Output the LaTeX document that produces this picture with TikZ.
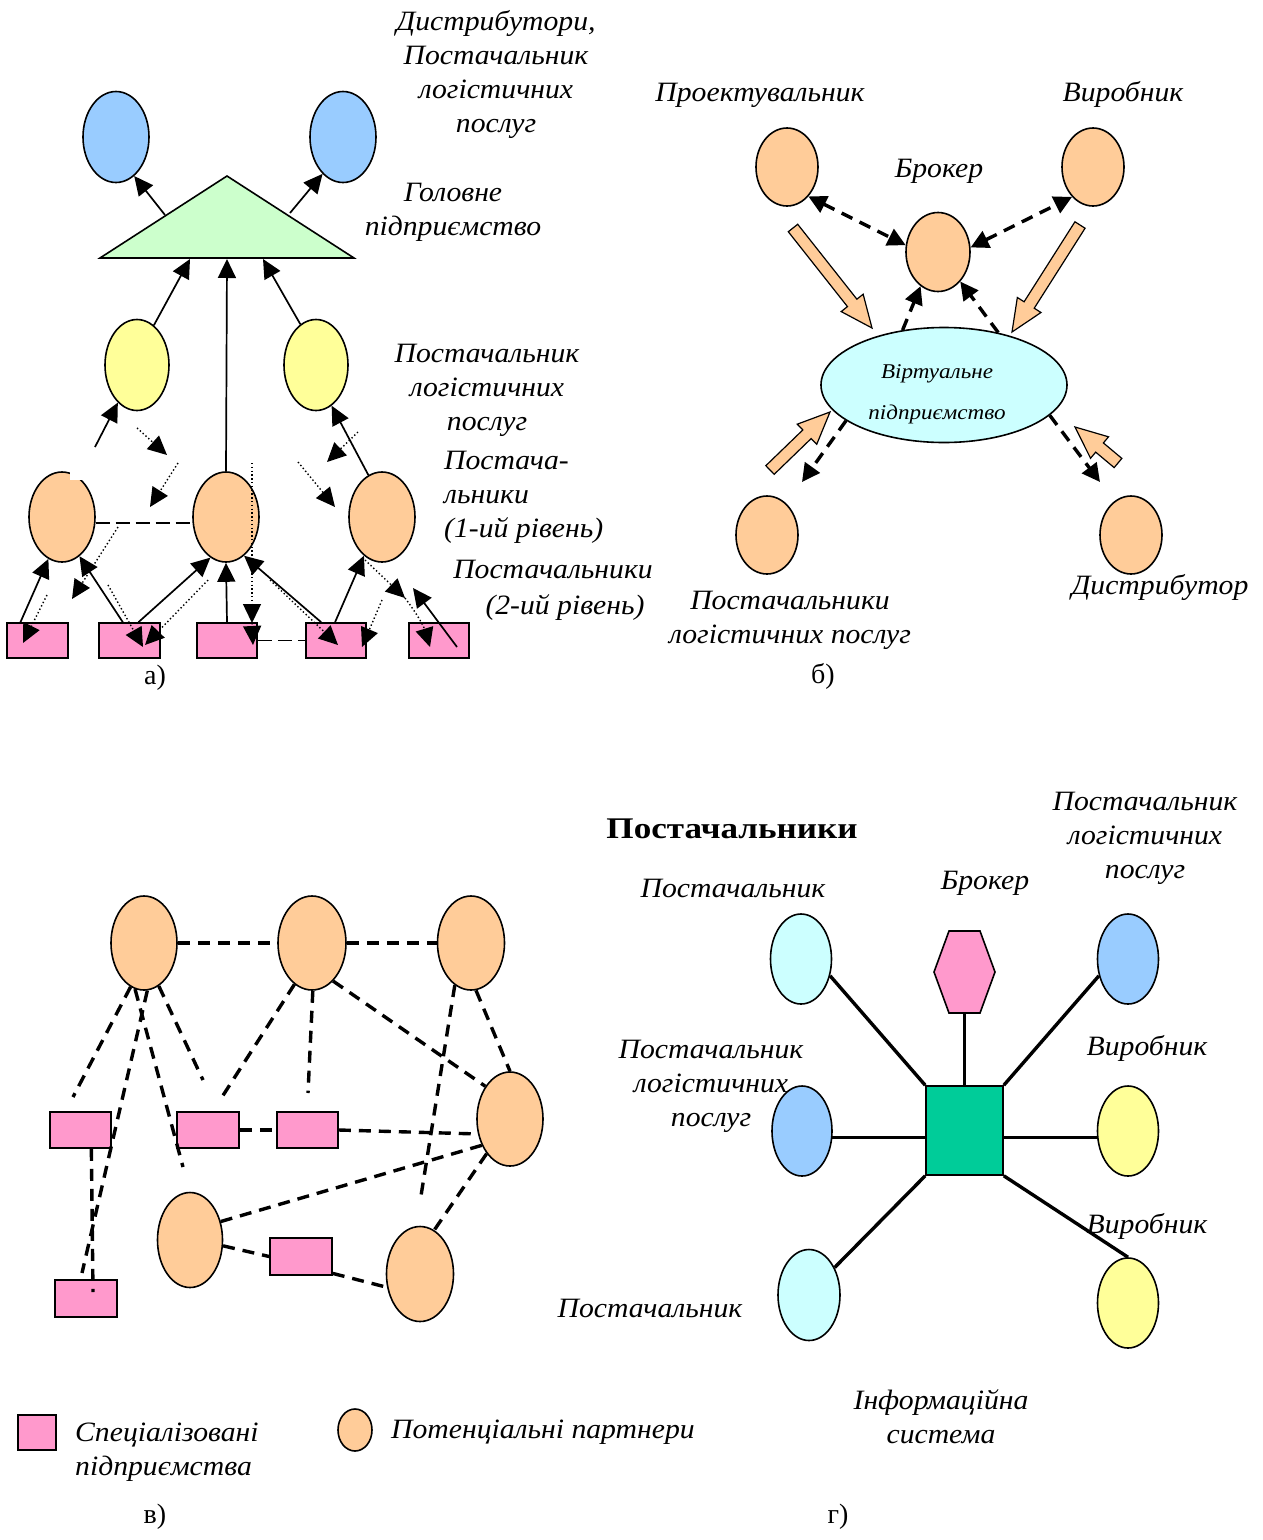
\documentclass[tikz,border=0pt]{standalone}
\usepackage{fontspec}
\setmainfont{Liberation Serif}
\newfontfamily\lblfam{Liberation Serif}[FakeStretch=1.06]
\newfontfamily\boldfam{Liberation Serif}[FakeStretch=1.17]
\newfontfamily\smallfam{Liberation Serif}[FakeStretch=1.1]
\usetikzlibrary{arrows.meta,shapes.geometric,calc}
\definecolor{orC}{HTML}{FFCC99}
\definecolor{yeC}{HTML}{FFFF99}
\definecolor{blC}{HTML}{99CCFF}
\definecolor{grC}{HTML}{CCFFCC}
\definecolor{piC}{HTML}{FF99CC}
\definecolor{cyC}{HTML}{CCFFFF}
\definecolor{tlC}{HTML}{00CC99}
\newcommand\lblfont{\lblfam\fontsize{28}{34}\selectfont\itshape}
\newcommand\fatarrow[2]{%
  \coordinate (faH) at ($(#2)!32pt!(#1)$);
  \draw[fat] ($(#1)!6pt!90:(#2)$) -- ($(faH)!6pt!-90:(#1)$) -- ($(faH)!14pt!-90:(#1)$) -- (#2)
    -- ($(faH)!14pt!90:(#1)$) -- ($(faH)!6pt!90:(#1)$) -- ($(#1)!6pt!-90:(#2)$) -- cycle;}
\tikzset{
  oval/.style={ellipse,draw=black,line width=1.6pt,inner sep=0pt},
  box/.style={rectangle,draw=black,line width=1.6pt,inner sep=0pt,fill=piC},
  lbl/.style={font=\lblfont,align=center,inner sep=0pt,anchor=base},
  upl/.style={font=\fontsize{28}{34}\selectfont,inner sep=0pt,anchor=base},
  sarr/.style={line width=1.7pt,-{Triangle[length=19pt,width=18pt]}},
  dotarr/.style={line width=1.4pt,dash pattern=on 1.4pt off 2.4pt,-{Triangle[length=19pt,width=18pt]}},
  ldash/.style={line width=1.6pt,dash pattern=on 14pt off 6pt},
  barr/.style={line width=3.4pt,dash pattern=on 12pt off 8pt,-{Triangle[length=18pt,width=18pt]}},
  bbarr/.style={line width=3.4pt,dash pattern=on 12pt off 8pt,{Triangle[length=18pt,width=18pt]}-{Triangle[length=18pt,width=18pt]}},
  fat/.style={draw=black,line width=1.2pt,fill=orC,line join=miter},
  vdash/.style={line width=3.4pt,dash pattern=on 12pt off 8pt},
  gline/.style={line width=3.4pt},
}
\begin{document}
\begin{tikzpicture}[x=1pt,y=-1pt]
\useasboundingbox (0,0) rectangle (1262,1540);
\fill[white] (0,0) rectangle (1262,1540);

%% ---------------- panel a ----------------
\node[oval,fill=blC,minimum width=66pt,minimum height=91pt] (aB1) at (116,137) {};
\node[oval,fill=blC,minimum width=66pt,minimum height=91pt] (aB2) at (343,137) {};
\coordinate (aTtop) at (227,176); \coordinate (aTl) at (100,258); \coordinate (aTr) at (354,258);
\draw[fill=grC,line width=1.6pt] (aTtop) -- (aTr) -- (aTl) -- cycle;
\coordinate (aTe1) at (165,215); \coordinate (aTe2) at (290,213);
\coordinate (aTb1) at (190,259); \coordinate (aTb2) at (227,259); \coordinate (aTb3) at (263,259);
\node[oval,fill=yeC,minimum width=64pt,minimum height=91pt] (aY1) at (137,365) {};
\node[oval,fill=yeC,minimum width=64pt,minimum height=91pt] (aY2) at (316,365) {};
\node[oval,fill=orC,minimum width=66pt,minimum height=90pt] (aO1) at (62,517) {};
\node[oval,fill=orC,minimum width=66pt,minimum height=90pt] (aO2) at (226,517) {};
\node[oval,fill=orC,minimum width=66pt,minimum height=90pt] (aO3) at (382,517) {};
\fill[white] (70,470.5) rectangle (82,480);
\node[box,minimum width=61pt,minimum height=35pt] (aR1) at (37.5,640.5) {};
\node[box,minimum width=61pt,minimum height=35pt] (aR2) at (129.5,640.5) {};
\node[box,minimum width=60pt,minimum height=35pt] (aR3) at (227,640.5) {};
\node[box,minimum width=60pt,minimum height=35pt] (aR4) at (336,640.5) {};
\node[box,minimum width=60pt,minimum height=35pt] (aR5) at (439,640.5) {};

\draw[sarr] (aTe1) -- (aB1.-65);
\draw[sarr] (aTe2) -- (aB2.-119);
\draw[sarr] (aY1.67) -- (aTb1);
\draw[sarr] (aO2.north) -- (aTb2);
\draw[sarr] (aY2.111) -- (aTb3);
\coordinate (aF1) at (95,447);
\draw[sarr] (aF1) -- (aY1.-117);
\draw[sarr] (aO3.108) -- (aY2.-69);
\draw[sarr] (aR1.133) -- (aO1.-108);
\draw[sarr] (aR2.110) -- (aO1.-66);
\draw[sarr] (aR2.64) -- (aO2.-111);
\draw[sarr] (aR3.north) -- (aO2.south);
\draw[sarr] (aR4.129) -- (aO2.-65);
\draw[sarr] (aR4.93) -- (aO3.-115);
\coordinate (aF2) at (413,588); \coordinate (aF3) at (457,647);
\draw[sarr] (aF3) -- (aF2);

\coordinate (d1s) at (137,428); \coordinate (d1e) at (167,455);
\coordinate (d2s) at (178,463); \coordinate (d2e) at (150,507);
\coordinate (d3s) at (358,432); \coordinate (d3e) at (327,462);
\coordinate (d4s) at (298,462); \coordinate (d4e) at (335,507);
\coordinate (d5s) at (118,527); \coordinate (d5e) at (72,599);
\coordinate (d6s) at (47,595);  \coordinate (d6e) at (23,643);
\coordinate (d7s) at (108,585); \coordinate (d7e) at (143,647);
\coordinate (d8s) at (208,580); \coordinate (d8e) at (145,645);
\coordinate (d9s) at (252,463); \coordinate (d9m) at (252,623); \coordinate (d9e) at (253,645);
\coordinate (d10s) at (270,580); \coordinate (d10e) at (338,645);
\coordinate (d11s) at (365,560); \coordinate (d11m) at (405,598); \coordinate (d11e) at (430,647);
\coordinate (d12s) at (382,600); \coordinate (d12e) at (362,647);
\draw[dotarr] (d1s) -- (d1e);
\draw[dotarr] (d2s) -- (d2e);
\draw[dotarr] (d3s) -- (d3e);
\draw[dotarr] (d4s) -- (d4e);
\draw[dotarr] (d5s) -- (d5e);
\draw[dotarr] (d6s) -- (d6e);
\draw[dotarr] (d7s) -- (d7e);
\draw[dotarr] (d8s) -- (d8e);
\draw[dotarr] (d9s) -- (d9m);
\draw[dotarr] (d9m) -- (d9e);
\draw[dotarr] (d10s) -- (d10e);
\draw[dotarr] (d11s) -- (d11m);
\draw[dotarr] (d11m) to[bend left=10] (d11e);
\draw[dotarr] (d12s) -- (d12e);
\draw[ldash] (aO1.-10) -- (aO2.190);
\draw[ldash] (aR3.east) -- (aR4.west);

\node[lbl] (tA1) at (496,132) {Дистрибутори,\\Постачальник\\логістичних\\послуг};
\node[lbl] (tA2) at (453,235) {Головне\\підприємство};
\node[lbl] (tA3) at (487,430) {Постачальник\\логістичних\\послуг};
\node[lbl,align=left,anchor=base west] (tA4) at (444,537) {Постача-\\льники\\(1-ий рівень)};
\node[lbl] (tA5) at (553,578) {Постачальники};
\node[lbl] (tA6) at (565,614) {(2-ий рівень)};
\node[upl] (capA) at (155,684) {а)};

%% ---------------- panel b ----------------
\node[oval,fill=orC,minimum width=62pt,minimum height=78pt] (bP) at (787,167) {};
\node[oval,fill=orC,minimum width=62pt,minimum height=78pt] (bV) at (1093,167) {};
\node[oval,fill=orC,minimum width=64pt,minimum height=79pt] (bB) at (938,252) {};
\node[oval,fill=cyC,minimum width=246pt,minimum height=115pt] (bVirt) at (944,385) {};
\node[oval,fill=orC,minimum width=62pt,minimum height=78pt] (bL) at (767,535) {};
\node[oval,fill=orC,minimum width=62pt,minimum height=78pt] (bD) at (1131,535) {};
\node[font=\smallfam\fontsize{21}{41}\selectfont\itshape,align=center,inner sep=0pt,anchor=base] (tBv) at (937,419) {Віртуальне\\підприємство};

\draw[bbarr] (bP.-54) -- (bB.168);
\draw[bbarr] (bB.8) -- (bV.-125);
\draw[barr] (bVirt.127) -- (bB.-117);
\draw[barr] (bVirt.44) -- (bB.-53);
\coordinate (bE1) at (802,482); \coordinate (bE2) at (1100,482);
\draw[barr] (bVirt.200) -- (bE1);
\draw[barr] (bVirt.-16) -- (bE2);

\coordinate (f1s) at (793,228); \coordinate (f1e) at (872,328);
\coordinate (f2s) at (1080,225); \coordinate (f2e) at (1012,332);
\coordinate (f3s) at (770,470); \coordinate (f3e) at (830,412);
\coordinate (f4s) at (1118,463); \coordinate (f4e) at (1075,427);
\fatarrow{f1s}{f1e}
\fatarrow{f2s}{f2e}
\fatarrow{f3s}{f3e}
\fatarrow{f4s}{f4e}

\node[lbl] (tB1) at (760,101) {Проектувальник};
\node[lbl] (tB2) at (1123,101) {Виробник};
\node[lbl] (tB3) at (939,177) {Брокер};
\node[lbl] (tB4) at (790,643) {Постачальники\\логістичних послуг};
\node[lbl] (tB5) at (1160,594) {Дистрибутор};
\node[upl] (capB) at (823,683) {б)};

%% ---------------- panel v ----------------
\node[oval,fill=orC,minimum width=66pt,minimum height=94pt] (vO1) at (144,943) {};
\node[oval,fill=orC,minimum width=68pt,minimum height=94pt] (vO2) at (312,943) {};
\node[oval,fill=orC,minimum width=67pt,minimum height=94pt] (vO3) at (471,943) {};
\node[oval,fill=orC,minimum width=66pt,minimum height=94pt] (vO4) at (510,1119) {};
\node[oval,fill=orC,minimum width=65pt,minimum height=95pt] (vO5) at (190,1240) {};
\node[oval,fill=orC,minimum width=67pt,minimum height=95pt] (vO6) at (420,1274) {};
\node[box,minimum width=61pt,minimum height=36pt] (vR1) at (80.5,1130) {};
\node[box,minimum width=62pt,minimum height=36pt] (vR2) at (208,1130) {};
\node[box,minimum width=61pt,minimum height=36pt] (vR3) at (307.5,1130) {};
\node[box,minimum width=62pt,minimum height=37pt] (vR4) at (301,1256.5) {};
\node[box,minimum width=62pt,minimum height=37pt] (vR5) at (86,1298.5) {};

\coordinate (v3e) at (73,1097);
\coordinate (v4e) at (183,1167);
\coordinate (v5e) at (82,1273);
\coordinate (v6e) at (203,1080);
\coordinate (v7e) at (222,1097);
\coordinate (v8e) at (308,1093);
\coordinate (v10e) at (420,1202);
\coordinate (v18e) at (93,1292);
\draw[vdash] (vO1.east) -- (vO2.west);
\draw[vdash] (vO2.east) -- (vO3.west);
\draw[vdash] (vO1.-107) -- (v3e);
\draw[vdash] (vO1.-101) -- (v4e);
\draw[vdash] (vO1.-86) -- (v5e);
\draw[vdash] (vO1.-71) -- (v6e);
\draw[vdash] (vO2.-113) -- (v7e);
\draw[vdash] (vO2.-89) -- (v8e);
\draw[vdash] (vO2.-61) -- (vO4.127);
\draw[vdash] (vO3.-111) -- (v10e);
\draw[vdash] (vO3.-84) -- (vO4.north);
\draw[vdash] (vR2.east) -- (vR3.west);
\draw[vdash] (vR3.east) -- (vO4.-155);
\draw[vdash] (vO4.-137) -- (vO5.31);
\draw[vdash] (vO4.-124) -- (vO6.72);
\draw[vdash] (vO5.-10) -- (vR4.west);
\draw[vdash] (vR4.-28) -- (vO6.-158);
\draw[vdash] (vR1.-60) -- (v18e);

\node[box,minimum width=38pt,minimum height=35pt] (lR) at (37,1432.5) {};
\node[oval,fill=orC,minimum width=34pt,minimum height=42pt] (lO) at (355,1430) {};
\node[lbl,align=left,anchor=base west] (tL1) at (75,1475) {Спеціалізовані\\підприємства};
\node[lbl,anchor=base west] (tL2) at (391,1438) {Потенціальні партнери};
\node[upl] (capV) at (155,1523) {в)};

%% ---------------- panel g ----------------
\node[oval,fill=cyC,minimum width=61pt,minimum height=90pt] (gC1) at (801,959) {};
\draw[fill=piC,line width=1.6pt] (949,931) -- (980,931) -- (995,972) -- (980,1013) -- (949,1013) -- (934,972) -- cycle;
\coordinate (gHb) at (964.5,1013);
\node[oval,fill=blC,minimum width=61pt,minimum height=90pt] (gB1) at (1128,959) {};
\node[rectangle,draw=black,line width=1.6pt,fill=tlC,inner sep=0pt,minimum width=77pt,minimum height=89pt] (gS) at (964.5,1130.5) {};
\node[oval,fill=blC,minimum width=60pt,minimum height=90pt] (gB2) at (802,1131) {};
\node[oval,fill=yeC,minimum width=61pt,minimum height=90pt] (gY1) at (1128,1131) {};
\node[oval,fill=cyC,minimum width=62pt,minimum height=91pt] (gC2) at (809,1295) {};
\node[oval,fill=yeC,minimum width=61pt,minimum height=90pt] (gY2) at (1128,1303) {};

\draw[gline] (gC1.-30) -- (gS.north west);
\draw[gline] (gHb) -- (gS.north);
\draw[gline] (gB1.-150) -- (gS.north east);
\draw[gline] (gB2.-12) -- (gB2.-12 -| gS.west);
\draw[gline] (gS.east |- gY1.192) -- (gY1.192);
\draw[gline] (gS.south west) -- (gC2.47);
\draw[gline] (gS.south east) -- (gY2.north);

\node[font=\boldfam\fontsize{30}{34}\selectfont\bfseries,inner sep=0pt,anchor=base] (tG0) at (732,838) {Постачальники};
\node[lbl] (tG1) at (733,897) {Постачальник};
\node[lbl] (tG2) at (985,889) {Брокер};
\node[lbl] (tG3) at (1145,878) {Постачальник\\логістичних\\послуг};
\node[lbl] (tG4) at (711,1126) {Постачальник\\логістичних\\послуг};
\node[lbl] (tG5) at (1147,1055) {Виробник};
\node[lbl] (tG6) at (1147,1233) {Виробник};
\node[lbl] (tG7) at (650,1317) {Постачальник};
\node[lbl] (tG8) at (941,1443) {Інформаційна\\система};
\node[upl] (capG) at (838,1523) {г)};
\end{tikzpicture}
\end{document}
